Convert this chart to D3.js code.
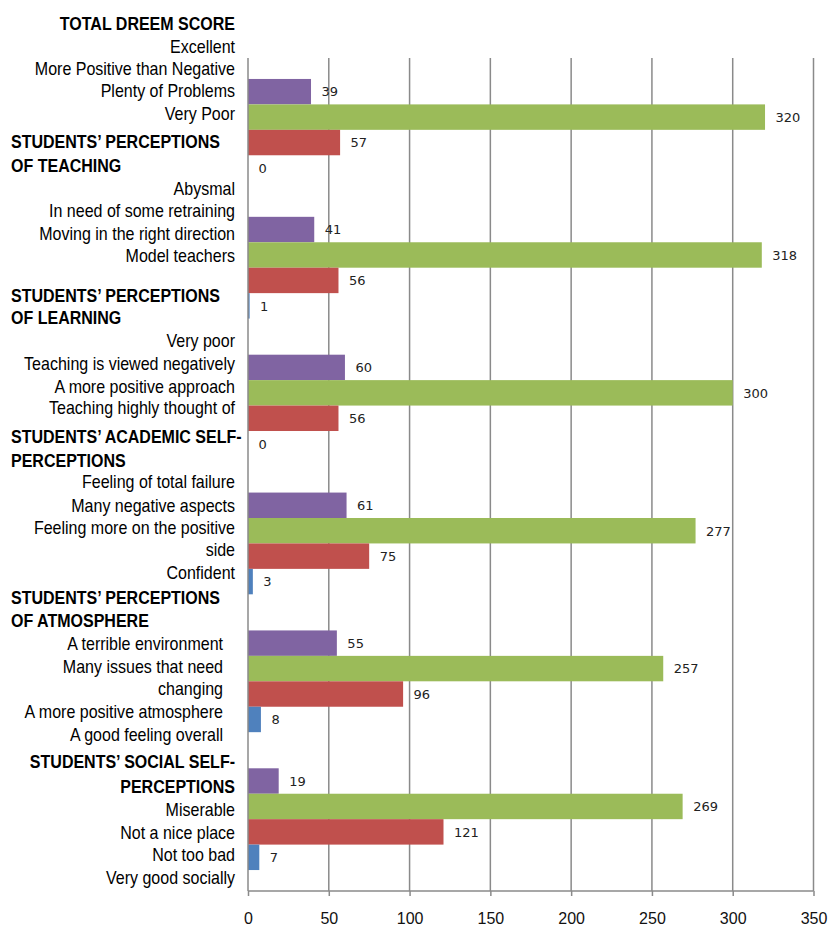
<!DOCTYPE html>
<html>
<head>
<meta charset="utf-8">
<script src="https://cdn.jsdelivr.net/npm/d3@7/dist/d3.min.js"></script>
<style>
  html, body { margin: 0; padding: 0; background: #ffffff; }
  svg { display: block; }
</style>
</head>
<body>
<div id="chart"></div>
<script>
// ---- data -------------------------------------------------------------
const groups = [
  "Total DREEM score",
  "Perceptions of teaching",
  "Perceptions of learning",
  "Academic self-perceptions",
  "Perceptions of atmosphere",
  "Social self-perceptions"
];
const seriesKeys = ["s1", "s2", "s3", "s4"];
const seriesS1 = [39, 41, 60, 61, 55, 19];
const seriesS2 = [320, 318, 300, 277, 257, 269];
const seriesS3 = [57, 56, 56, 75, 96, 121];
const seriesS4 = [0, 1, 0, 3, 8, 7];
const xTicks = [0, 50, 100, 150, 200, 250, 300, 350];

// text lines of the category column
const labelLines = [
  "TOTAL DREEM SCORE",
  "Excellent",
  "More Positive than Negative",
  "Plenty of Problems",
  "Very Poor",
  "STUDENTS\u2019 PERCEPTIONS",
  "OF TEACHING",
  "Abysmal",
  "In need of some retraining",
  "Moving in the right direction",
  "Model teachers",
  "STUDENTS\u2019 PERCEPTIONS",
  "OF LEARNING",
  "Very poor",
  "Teaching is viewed negatively",
  "A more positive approach",
  "Teaching highly thought of",
  "STUDENTS\u2019 ACADEMIC SELF-",
  "PERCEPTIONS",
  "Feeling of total failure",
  "Many negative aspects",
  "Feeling more on the positive",
  "side",
  "Confident",
  "STUDENTS\u2019 PERCEPTIONS",
  "OF ATMOSPHERE",
  "A terrible environment",
  "Many issues that need",
  "changing",
  "A more positive atmosphere",
  "A good feeling overall",
  "STUDENTS\u2019 SOCIAL SELF-",
  "PERCEPTIONS",
  "Miserable",
  "Not a nice place",
  "Not too bad",
  "Very good socially"
];

// ---- layout -----------------------------------------------------------
const W = 833, H = 927;
const plot = { left: 248, right: 813.5, top: 58, bottom: 891 };
const colors = { s1: "#8064A2", s2: "#9BBB59", s3: "#C0504D", s4: "#4F81BD" };
const gridColor = "#8a8a8a";

// style code per label line: L = bold left, R = bold right,
// i = plain right, j = plain right (inset column)
const labelStyle = [
  "R","i","i","i","i",
  "L","L","i","i","i","i",
  "L","L","i","i","i","i",
  "L","L","i","i","i","i","i",
  "L","L","j","j","j","j","j",
  "R","R","i","i","i","i"
];
const labelBaseline = [
  30, 52.7, 75, 97, 120,
  148, 171.5, 195, 217, 239.5, 262,
  301.5, 323.5, 346.5, 369.5, 392.5, 413.5,
  443, 466.5, 488, 511.5, 534, 556, 579,
  604, 626.5, 649.5, 673, 695, 718, 740.5,
  768, 793, 816, 839, 860.5, 884
];
const anchorX = { L: 11, R: 235, i: 235, j: 223 };
const squeeze = 0.915;

const svg = d3.select("#chart").append("svg")
  .attr("width", W).attr("height", H);

const x = d3.scaleLinear().domain([0, 350]).range([plot.left, plot.right]);
const y0 = d3.scaleBand().domain(groups)
  .range([plot.top, plot.bottom])
  .paddingInner(0.262).paddingOuter(0.152);
const y1 = d3.scaleBand().domain(seriesKeys).range([0, y0.bandwidth()]);

const rows = groups.map((g, i) => ({
  group: g,
  s1: seriesS1[i], s2: seriesS2[i], s3: seriesS3[i], s4: seriesS4[i]
}));

// vertical gridlines
svg.append("g").selectAll("line")
  .data(xTicks.filter(t => t > 0))
  .join("line")
  .attr("x1", d => x(d)).attr("x2", d => x(d))
  .attr("y1", plot.top).attr("y2", plot.bottom)
  .attr("stroke", gridColor).attr("stroke-width", 1.5);

// bars
const gGroups = svg.append("g").selectAll("g")
  .data(rows).join("g")
  .attr("transform", d => `translate(0,${y0(d.group)})`);

gGroups.selectAll("rect")
  .data(d => seriesKeys.map(k => ({ key: k, value: d[k] })))
  .join("rect")
  .attr("x", x(0))
  .attr("y", d => y1(d.key))
  .attr("width", d => x(d.value) - x(0))
  .attr("height", y1.bandwidth())
  .attr("fill", d => colors[d.key]);

// value labels
gGroups.selectAll("text")
  .data(d => seriesKeys.map(k => ({ key: k, value: d[k] })))
  .join("text")
  .attr("x", d => x(d.value) + 10.5)
  .attr("y", d => y1(d.key) + y1.bandwidth() / 2)
  .attr("dy", "0.37em")
  .attr("font-family", "'DejaVu Sans', Verdana, sans-serif")
  .attr("font-size", 13)
  .attr("fill", "#222")
  .text(d => d.value);

// value axis
const xAxis = d3.axisBottom(x).tickValues(xTicks).tickSize(5).tickPadding(17);
const ax = svg.append("g")
  .attr("transform", `translate(0,${plot.bottom})`)
  .call(xAxis);
ax.select(".domain").attr("stroke", gridColor).attr("stroke-width", 1.5)
  .attr("d", `M${plot.left},0H${plot.right}`);
ax.selectAll(".tick line").attr("stroke", gridColor).attr("stroke-width", 1.5);
ax.selectAll(".tick text")
  .attr("font-family", "'Liberation Sans', Arial, sans-serif")
  .attr("font-size", 16)
  .attr("fill", "#111");

// category axis line
svg.append("line")
  .attr("x1", plot.left).attr("x2", plot.left)
  .attr("y1", plot.top).attr("y2", plot.bottom)
  .attr("stroke", gridColor).attr("stroke-width", 1.5);

// category label column
svg.append("g").selectAll("text")
  .data(labelLines.map((t, i) => ({ text: t, style: labelStyle[i], base: labelBaseline[i] })))
  .join("text")
  .attr("transform", d => `translate(${anchorX[d.style]},${d.base}) scale(${squeeze},1)`)
  .attr("text-anchor", d => d.style === "L" ? "start" : "end")
  .attr("font-family", "'Liberation Sans', Arial, sans-serif")
  .attr("font-size", 17.5)
  .attr("font-weight", d => (d.style === "L" || d.style === "R") ? "bold" : "normal")
  .attr("fill", "#000")
  .text(d => d.text);
</script>
</body>
</html>
